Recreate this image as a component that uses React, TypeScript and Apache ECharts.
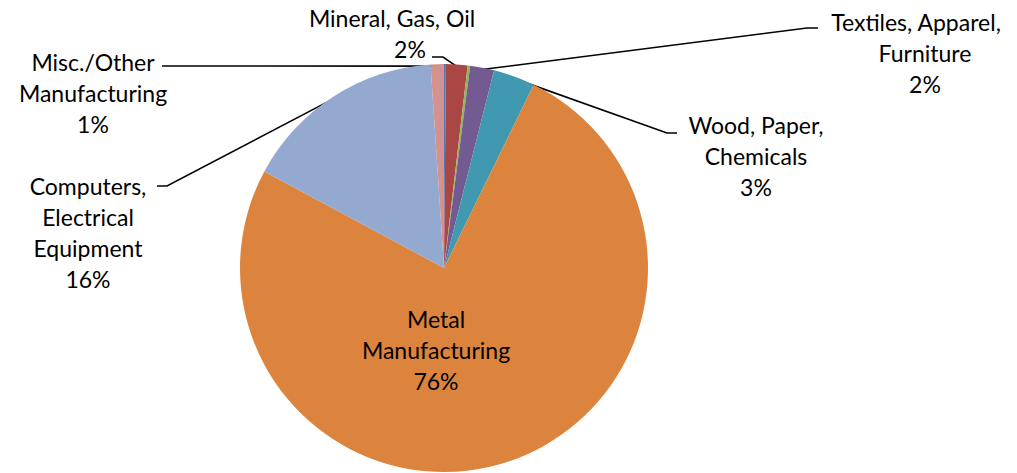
import React, { useEffect, useRef } from "react";
import * as echarts from "echarts";

// Slices in clockwise order from 12 o'clock
const categories = [
  "Unlabelled A",
  "Mineral, Gas, Oil",
  "Unlabelled B",
  "Textiles, Apparel, Furniture",
  "Wood, Paper, Chemicals",
  "Metal Manufacturing",
  "Computers, Electrical Equipment",
  "Misc./Other Manufacturing",
];
const values = [0.15, 1.7, 0.2, 1.9, 3.3, 75.6, 16.1, 1.05];
const colors = ["#4F7BB8", "#AA4644", "#93B55A", "#735A91", "#4199B1", "#DC843D", "#94A9CF", "#D39290"];
const showLabel = [false, true, false, true, true, true, true, true];

// label text lines (as wrapped in the reference)
const labelLines = [
  [],
  ["Mineral, Gas, Oil"],
  [],
  ["Textiles, Apparel,", "Furniture"],
  ["Wood, Paper,", "Chemicals"],
  ["Metal", "Manufacturing"],
  ["Computers,", "Electrical", "Equipment"],
  ["Misc./Other", "Manufacturing"],
];

// layout of labels: [center x, top y], and label-side leader points
const labelAnchor: (number[] | null)[] = [
  null, [392, 2], null, [925, 6], [756, 109], [436, 303], [88, 170], [93, 46],
];
const leaderEnds: (number[][] | null)[] = [
  null,
  [[443, 57], [432, 57]],
  null,
  [[807, 28], [818, 28]],
  [[667, 133], [677, 133]],
  null,
  [[167, 186], [157, 186]],
  [[172, 66], [162, 66]],
];

const CX = 444;
const CY = 268;
const R = 204;
const FONT = "Lato";
const FS = 23;
const LH = 31;

export default function App() {
  const ref = useRef<HTMLDivElement>(null);
  useEffect(() => {
    if (!ref.current) return;
    const chart = echarts.init(ref.current, undefined, { renderer: "svg" });
    const total = values.reduce((a, b) => a + b, 0);
    const midAngles: number[] = [];
    let acc = 0;
    values.forEach((v) => {
      midAngles.push(((acc + v / 2) / total) * Math.PI * 2);
      acc += v;
    });
    const edgePoint = (i: number) => {
      const a = midAngles[i];
      const r = R - 2;
      return [CX + r * Math.sin(a), CY - r * Math.cos(a)];
    };

    const data = categories.map((name, i) => ({
      name,
      value: values[i],
      itemStyle: { color: colors[i] },
      label: {
        show: showLabel[i],
        position: i === 5 ? "inside" : "outside",
      },
      labelLine: { show: showLabel[i] && i !== 5 },
    }));

    const base = { fontFamily: FONT, fontSize: FS, lineHeight: LH, color: "#000" };

    chart.setOption({
      animation: false,
      backgroundColor: "#ffffff",
      series: [
        {
          type: "pie",
          center: [CX, CY],
          radius: R,
          startAngle: 90,
          clockwise: true,
          percentPrecision: 0,
          avoidLabelOverlap: false,
          data,
          itemStyle: { borderWidth: 0 },
          label: {
            ...base,
            align: "center",
            formatter: (p: any) => {
              const i = p.dataIndex;
              const lines = labelLines[i];
              const pct = p.percent + "%";
              if (i === 1) return `{t|${lines[0]}}\n{m|${pct}}`;
              if (i === 3) return `{s|${lines[0]}}\n{t|${lines[1]}}\n{t|${pct}}`;
              return lines.map((l) => `{t|${l}}`).join("\n") + `\n{t|${pct}}`;
            },
            rich: {
              t: { ...base },
              m: { ...base, padding: [0, 0, 0, 36] },
              s: { ...base, padding: [0, 18, 0, 0] },
            },
          },
          labelLine: {
            lineStyle: { color: "#000000", width: 1.6 },
          },
          labelLayout: (params: any) => {
            const i = params.dataIndex;
            const a = labelAnchor[i];
            if (!a) return {};
            const res: any = { x: a[0], y: a[1], align: "center", verticalAlign: "top" };
            const le = leaderEnds[i];
            if (le) {
              res.labelLinePoints = [edgePoint(i), le[0], le[1]];
            }
            return res;
          },
        },
      ],
    });
    return () => chart.dispose();
  }, []);
  return (
    <div
      ref={ref}
      style={{ position: "fixed", left: 0, top: 0, width: 1017, height: 473, background: "#fff" }}
    />
  );
}
